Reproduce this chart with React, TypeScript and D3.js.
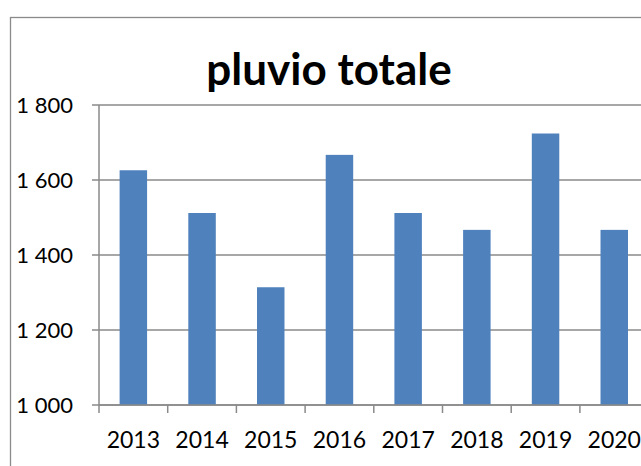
import React from "react";
import * as d3 from "d3";

const years = ["2013", "2014", "2015", "2016", "2017", "2018", "2019", "2020"];
const values = [1626, 1512, 1314, 1667, 1512, 1467, 1724, 1467];
const yTicks = [1000, 1200, 1400, 1600, 1800];
const title = "pluvio totale";

const W = 641;
const H = 466;
const plot = { left: 99, right: 648.6, top: 105, bottom: 405 };
const axisColor = "#8a8a8a";
const barColor = "#4F81BD";
const font = "Lato, 'Open Sans', sans-serif";

const fmt = (v: number) => {
  const s = String(v);
  return s.length > 3 ? s.slice(0, s.length - 3) + " " + s.slice(-3) : s;
};

export default function App() {
  const x = d3
    .scaleBand<string>()
    .domain(years)
    .range([plot.left, plot.right])
    .paddingInner(0.6)
    .paddingOuter(0.3);
  const y = d3.scaleLinear().domain([1000, 1800]).range([plot.bottom, plot.top]);
  const step = x.step();
  const boundaries = d3.range(years.length + 1).map((i) => plot.left + i * step);

  return (
    <svg
      width={W}
      height={H}
      style={{ position: "absolute", left: 0, top: 0, background: "#fff" }}
    >
      <rect x={0} y={0} width={W} height={H} fill="#fff" />
      <rect
        x={10.5}
        y={17.5}
        width={660}
        height={480}
        fill="#fff"
        stroke={axisColor}
        strokeWidth={1.3}
      />
      <text
        x={329}
        y={85}
        textAnchor="middle"
        fontFamily={font}
        fontWeight="bold"
        fontSize={44}
        fill="#000"
      >
        {title}
      </text>
      {yTicks.map((t) => (
        <g key={t}>
          <line
            x1={plot.left - 7}
            x2={plot.right}
            y1={y(t)}
            y2={y(t)}
            stroke={axisColor}
            strokeWidth={1.5}
          />
          <text
            x={73}
            y={y(t)}
            dy="0.36em"
            textAnchor="end"
            fontFamily={font}
            fontSize={22}
            fill="#000"
          >
            {fmt(t)}
          </text>
        </g>
      ))}
      <line
        x1={plot.left}
        x2={plot.left}
        y1={plot.top}
        y2={plot.bottom}
        stroke={axisColor}
        strokeWidth={1.5}
      />
      {boundaries.map((b, i) => (
        <line
          key={i}
          x1={b}
          x2={b}
          y1={plot.bottom}
          y2={plot.bottom + 8}
          stroke={axisColor}
          strokeWidth={1.5}
        />
      ))}
      {years.map((yr, i) => (
        <rect
          key={yr}
          x={x(yr)}
          y={y(values[i])}
          width={x.bandwidth()}
          height={plot.bottom - y(values[i])}
          fill={barColor}
        />
      ))}
      <line
        x1={plot.left}
        x2={plot.right}
        y1={plot.bottom}
        y2={plot.bottom}
        stroke={axisColor}
        strokeWidth={1.5}
      />
      {years.map((yr) => (
        <text
          key={yr}
          x={(x(yr) as number) + x.bandwidth() / 2}
          y={448}
          textAnchor="middle"
          fontFamily={font}
          fontSize={23}
          fill="#000"
        >
          {yr}
        </text>
      ))}
    </svg>
  );
}
